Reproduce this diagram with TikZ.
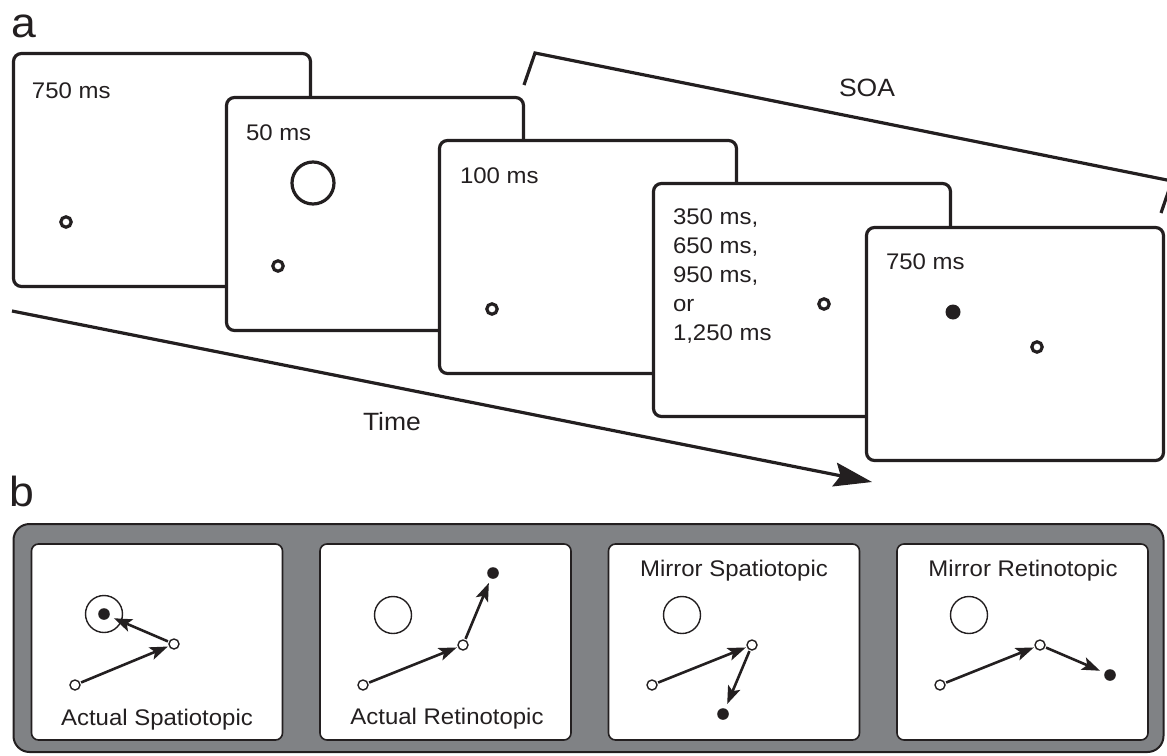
\documentclass[tikz,border=0pt]{standalone}
\usepackage{fontspec}
\setmainfont{Liberation Sans}[FakeStretch=1.06]
\usetikzlibrary{positioning, arrows.meta, calc}

\definecolor{inkblack}{RGB}{35,31,32}
\definecolor{panelgray}{RGB}{128,130,133}

\begin{document}
\begin{tikzpicture}[
    x=0.5pt, y=-0.5pt,
    every node/.style={inner sep=0pt, outer sep=0pt, text=inkblack},
    screen/.style={draw=inkblack, fill=white, line width=1.6pt, rounded corners=4pt,
        minimum width=148.5pt, minimum height=116.5pt},
    card/.style={draw=inkblack, fill=white, line width=0.8pt, rounded corners=3.5pt,
        minimum width=125.5pt, minimum height=98pt},
    fixring/.style={circle, draw=inkblack, line width=1.6pt, minimum size=5.2pt},
    bigring/.style={circle, draw=inkblack, line width=1.6pt, minimum size=21pt},
    probe/.style={circle, fill=inkblack, minimum size=7.5pt},
    eyering/.style={circle, draw=inkblack, fill=white, line width=0.7pt, minimum size=5pt},
    cuering/.style={circle, draw=inkblack, line width=0.7pt, minimum size=18.5pt},
    goal/.style={circle, fill=inkblack, minimum size=5.8pt},
    duration/.style={font=\fontsize{11.3pt}{14.5pt}\selectfont, anchor=base west},
    condition/.style={font=\fontsize{11.3pt}{13pt}\selectfont, anchor=base},
    axislabel/.style={font=\fontsize{12.5pt}{14pt}\selectfont, anchor=base west},
    letter/.style={font=\fontsize{21pt}{24pt}\selectfont, anchor=base west},
    saccade/.style={-{Stealth[length=9pt, width=6.5pt, inset=2pt]}, inkblack, line width=1.3pt,
        shorten <=0.8pt, shorten >=0.8pt},
    bracket/.style={inkblack, line width=1.6pt}
]
\useasboundingbox (0,0) rectangle (1167,755);

% Panel letters
\node[letter] (la) at (11,38) {a};
\node[letter] (lb) at (10,506) {b};

% SOA bracket
\coordinate (soa1) at (524,85);
\coordinate (soa2) at (535,53);
\coordinate (soa3) at (1172,181);
\coordinate (soa4) at (1161,213);
\draw[bracket] (soa1) -- (soa2) -- (soa3) -- (soa4);
\node[axislabel] (soa) at (839,96) {SOA};

% Time axis
\coordinate (t0) at (12,311);
\coordinate (t1) at (872,482);
\draw[inkblack, line width=1.6pt, -{Stealth[length=19pt, width=12pt, inset=3pt]}] (t0) -- (t1);
\node[axislabel] (time) at (363,430) {Time};

% Screen 1: fixation
\node[screen] (f1) at (162,170) {};
\node[duration] (d1) at (32,98) {750 ms};
\node[fixring] (x1) at (66,222) {};

% Screen 2: cue
\node[screen] (f2) at (375,214) {};
\node[duration] (d2) at (246,140) {50 ms};
\node[bigring] (cue) at (313,183) {};
\node[fixring] (x2) at (278,266) {};

% Screen 3: saccade target
\node[screen] (f3) at (588,257) {};
\node[duration] (d3) at (460,183) {100 ms};
\node[fixring] (x3) at (492,309) {};

% Screen 4: delay
\node[screen] (f4) at (802,300) {};
\node[duration, anchor=north west, align=left] (d4) at (673,209)
    {350 ms,\\650 ms,\\950 ms,\\or\\1,250 ms};
\node[fixring] (x4) at (824,304) {};

% Screen 5: probe
\node[screen] (f5) at (1015,344) {};
\node[duration] (d5) at (886,269) {750 ms};
\node[probe] (p5) at (953,312) {};
\node[fixring] (x5) at (1037,347) {};

% Panel b background
\node[draw=inkblack, fill=panelgray, line width=1pt, rounded corners=8pt,
    minimum width=575pt, minimum height=114pt] (panel) at (588.5,638) {};

% Actual Spatiotopic
\node[card] (box1) at (157,642) {};
\node[cuering] (c1) at (104,614) {};
\node[goal] (g1) at (104,614) {};
\node[eyering] (s1) at (75,685) {};
\node[eyering] (m1) at (174,644) {};
\node[condition] (n1) at (157,725) {Actual Spatiotopic};

% Actual Retinotopic
\node[card] (box2) at (445.5,642) {};
\node[cuering] (c2) at (393,615) {};
\node[goal] (g2) at (493,573) {};
\node[eyering] (s2) at (363,685) {};
\node[eyering] (m2) at (463,645) {};
\node[condition] (n2) at (447,724) {Actual Retinotopic};

% Mirror Spatiotopic
\node[card] (box3) at (734,642) {};
\node[cuering] (c3) at (682,615) {};
\node[goal] (g3) at (723,714) {};
\node[eyering] (s3) at (652,685) {};
\node[eyering] (m3) at (752,645) {};
\node[condition] (n3) at (734,576) {Mirror Spatiotopic};

% Mirror Retinotopic
\node[card] (box4) at (1022.5,642) {};
\node[cuering] (c4) at (969,615) {};
\node[goal] (g4) at (1110,675) {};
\node[eyering] (s4) at (940,685) {};
\node[eyering] (m4) at (1040,645) {};
\node[condition] (n4) at (1023,576) {Mirror Retinotopic};

% Saccades
\draw[saccade] (s1) -- (m1);
\draw[saccade, shorten >=2.5pt] (m1) -- (g1);
\draw[saccade] (s2) -- (m2);
\draw[saccade, shorten >=2.5pt] (m2) -- (g2);
\draw[saccade] (s3) -- (m3);
\draw[saccade, shorten >=2.5pt] (m3) -- (g3);
\draw[saccade] (s4) -- (m4);
\draw[saccade, shorten >=2.5pt] (m4) -- (g4);

\end{tikzpicture}
\end{document}
